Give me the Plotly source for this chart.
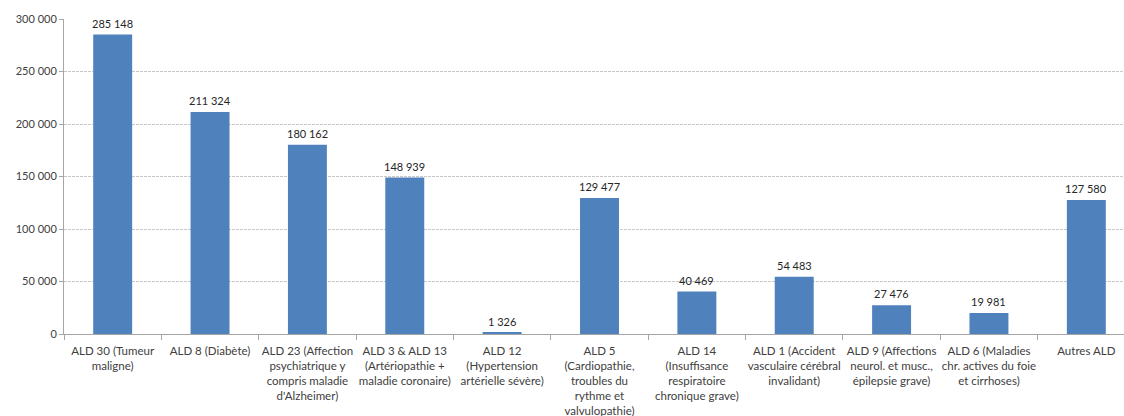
import plotly.graph_objects as go

categories = [
    "ALD 30 (Tumeur<br>maligne)",
    "ALD 8 (Diabète)",
    "ALD 23 (Affection<br>psychiatrique y<br>compris maladie<br>d'Alzheimer)",
    "ALD 3 & ALD 13<br>(Artériopathie +<br>maladie coronaire)",
    "ALD 12<br>(Hypertension<br>artérielle sévère)",
    "ALD 5<br>(Cardiopathie,<br>troubles du<br>rythme et<br>valvulopathie)",
    "ALD 14<br>(Insuffisance<br>respiratoire<br>chronique grave)",
    "ALD 1 (Accident<br>vasculaire cérébral<br>invalidant)",
    "ALD 9 (Affections<br>neurol. et musc.,<br>épilepsie grave)",
    "ALD 6 (Maladies<br>chr. actives du foie<br>et cirrhoses)",
    "Autres ALD",
]
values = [285148, 211324, 180162, 148939, 1326, 129477, 40469, 54483, 27476, 19981, 127580]
y_ticks = [0, 50000, 100000, 150000, 200000, 250000, 300000]

FONT = "Lato"
TXT = "#404040"

x_pos = list(range(len(categories)))

fig = go.Figure(
    go.Bar(
        x=x_pos,
        y=values,
        width=0.4,
        marker=dict(color="#4F81BD", line=dict(width=0)),
        hoverinfo="skip",
    )
)

for xi, v in zip(x_pos, values):
    fig.add_annotation(
        x=xi, y=v, xref="x", yref="y",
        text=f"{v:,}".replace(",", " "),
        showarrow=False,
        yanchor="bottom",
        yshift=3,
        font=dict(family=FONT, size=11, color="#262626"),
    )

fig.update_layout(
    width=1124,
    height=416,
    margin=dict(l=64, r=0, t=19, b=82),
    paper_bgcolor="white",
    plot_bgcolor="white",
    separators=", ",
    showlegend=False,
    font=dict(family=FONT, size=11, color=TXT),
)

fig.update_xaxes(
    tickmode="array",
    tickvals=x_pos,
    ticktext=categories,
    range=[-0.5, 10.387],
    showgrid=False,
    showline=True,
    linecolor="#A6A6A6",
    linewidth=1,
    ticks="",
    ticklabelstandoff=6,
    tickfont=dict(family=FONT, size=11.5, color=TXT),
    zeroline=False,
    minor=dict(
        tickmode="array",
        tickvals=[i - 0.5 for i in range(len(categories) + 1)],
        ticks="outside",
        ticklen=5,
        tickcolor="#A6A6A6",
        tickwidth=1,
        showgrid=False,
    ),
)

fig.update_yaxes(
    range=[0, 300000],
    tickvals=y_ticks,
    tickformat=",",
    showgrid=True,
    gridcolor="#C8C8C8",
    griddash="3px,1px",
    gridwidth=1,
    showline=True,
    linecolor="#A6A6A6",
    linewidth=1,
    ticks="outside",
    ticklen=4,
    tickcolor="#A6A6A6",
    tickfont=dict(family=FONT, size=11, color=TXT),
    zeroline=False,
)

fig.write_html("out.html")
